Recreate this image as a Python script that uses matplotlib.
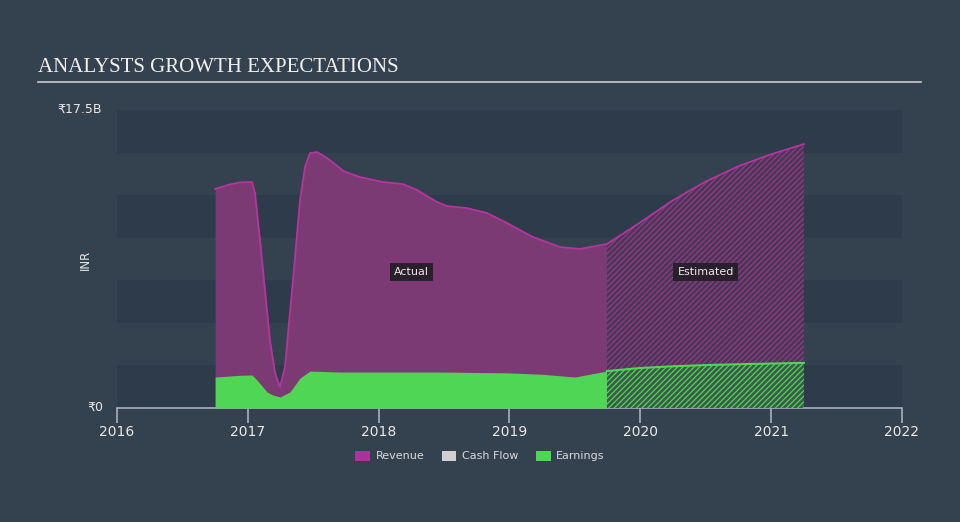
import matplotlib.pyplot as plt
from matplotlib.patches import Patch

# values in billions INR, x in decimal years
rev_years = [2016.75, 2016.85, 2016.94, 2017.032, 2017.055, 2017.093, 2017.131,
             2017.169, 2017.208, 2017.246, 2017.284, 2017.322, 2017.361, 2017.399,
             2017.437, 2017.475, 2017.529, 2017.605, 2017.704, 2017.727, 2017.857,
             2018.033, 2018.186, 2018.293, 2018.446, 2018.522, 2018.675, 2018.828,
             2018.981, 2019.18, 2019.386, 2019.539, 2019.745]
rev_actual = [12.86, 13.1, 13.25, 13.27, 12.62, 9.86, 6.93,
              3.99, 2.06, 1.23, 2.41, 5.58, 8.87, 12.21,
              14.15, 14.97, 15.03, 14.68, 14.09, 13.92, 13.56,
              13.27, 13.15, 12.8, 12.1, 11.86, 11.74, 11.45,
              10.86, 10.04, 9.45, 9.34, 9.63]

earn_years = [2016.75, 2016.94, 2017.032, 2017.07, 2017.147, 2017.192, 2017.246,
              2017.322, 2017.399, 2017.475, 2017.704, 2018.0, 2018.5, 2019.0,
              2019.25, 2019.5, 2019.745]
earn_actual = [1.82, 1.92, 1.94, 1.64, 0.94, 0.76, 0.65,
               0.94, 1.76, 2.17, 2.11, 2.11, 2.11, 2.06,
               1.98, 1.82, 2.17]

est_years = [2019.745, 2020.0, 2020.25, 2020.5, 2020.75, 2021.0, 2021.25]
rev_est = [9.63, 10.9, 12.2, 13.3, 14.2, 14.9, 15.5]
earn_est = [2.17, 2.35, 2.45, 2.52, 2.57, 2.61, 2.65]

x_ticks = [2016, 2017, 2018, 2019, 2020, 2021, 2022]

BG = '#344250'
DARK_BAND = '#2e3b4a'
REV_LINE = '#b5359f'
REV_FILL = '#7c3a74'
EARN = '#50d655'
TXT = '#e8e8e8'

fig = plt.figure(figsize=(9.6, 5.22), dpi=100, facecolor=BG)
ax = fig.add_axes([117 / 960, 114 / 522, 785 / 960, 298 / 522])
ax.set_facecolor(BG)

for lo in [0, 5, 10, 15]:
    ax.axhspan(lo, lo + 2.5, color=DARK_BAND, lw=0, zorder=0)

# actual
ax.fill_between(rev_years, 0, rev_actual, color=REV_FILL, lw=0, zorder=1)
ax.plot(rev_years, rev_actual, color=REV_LINE, lw=1.3, zorder=2)
ax.fill_between(earn_years, 0, earn_actual, color=EARN, lw=0, zorder=3)

# estimated (hatched)
plt.rcParams['hatch.linewidth'] = 0.9
ax.fill_between(est_years, 0, rev_est, facecolor='#4c3656', edgecolor='#8f3c87',
                hatch='//////', lw=0, zorder=1)
ax.plot(est_years, rev_est, color=REV_LINE, lw=1.3, zorder=2)
ax.fill_between(est_years, 0, earn_est, facecolor='#3b5a4a', edgecolor=EARN,
                hatch='//////', lw=0, zorder=3)
ax.plot(est_years, earn_est, color=EARN, lw=1.5, zorder=4)

ax.text(2018.25, 8.0, 'Actual', color=TXT, fontsize=8, ha='center', va='center',
        bbox=dict(facecolor='#2a1f2c', edgecolor='none', pad=3), zorder=5)
ax.text(2020.5, 8.0, 'Estimated', color=TXT, fontsize=8, ha='center', va='center',
        bbox=dict(facecolor='#2a1f2c', edgecolor='none', pad=3), zorder=5)

ax.set_xlim(2016, 2022)
ax.set_ylim(0, 17.5)
for s in ['top', 'right', 'left']:
    ax.spines[s].set_visible(False)
ax.spines['bottom'].set_color('#a8b0bc')
ax.spines['bottom'].set_linewidth(1.2)
ax.set_xticks(x_ticks)
ax.set_xticklabels([str(t) for t in x_ticks], color=TXT, fontsize=10)
ax.tick_params(axis='x', colors='#a8b0bc', length=11, width=1.2, pad=1,
               labelcolor=TXT)
ax.set_yticks([])

fig.text(95 / 960, 1 - 407 / 522, '₹0', color=TXT, fontsize=9, ha='center', va='center')
fig.text(80 / 960, 1 - 109 / 522, '₹17.5B', color=TXT, fontsize=9, ha='center', va='center')
fig.text(85 / 960, 1 - 260 / 522, 'INR', color=TXT, fontsize=8.5, rotation=90,
         ha='center', va='center')

fig.text(38 / 960, 1 - 67 / 522, 'ANALYSTS GROWTH EXPECTATIONS', color='#f0f0f0',
         fontsize=15, family='Liberation Serif', ha='left', va='center')
fig.add_artist(plt.Line2D([38 / 960, 921 / 960], [1 - 82 / 522, 1 - 82 / 522],
                          color='#c8ccd2', lw=1.2))

handles = [Patch(facecolor='#a9349c', label='Revenue'),
           Patch(facecolor='#d0d0d0', label='Cash Flow'),
           Patch(facecolor='#4cd94f', label='Earnings')]
leg = fig.legend(handles=handles, loc='center', bbox_to_anchor=(0.5, 1 - 456 / 522),
                 ncol=3, frameon=False, fontsize=8, handlelength=1.3,
                 handleheight=1.0, columnspacing=1.6, handletextpad=0.5)
for t in leg.get_texts():
    t.set_color('#d8d8d8')

fig.savefig('out.png', dpi=100, facecolor=BG)
